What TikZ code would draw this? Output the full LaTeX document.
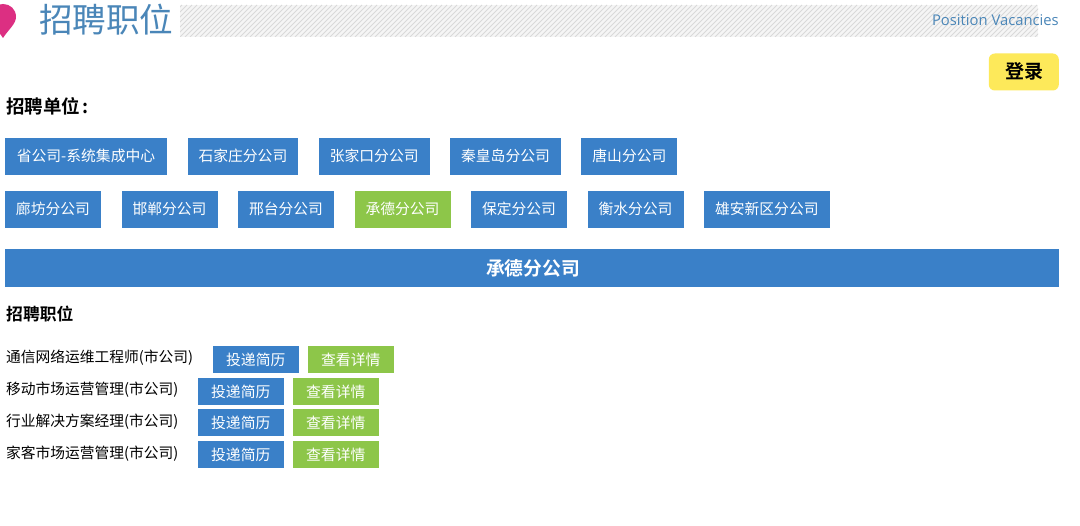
\documentclass[tikz,border=0pt]{standalone}
\usepackage{fontspec}
\setmainfont{Noto Sans CJK SC}
\newfontfamily\boldcjk{Noto Sans CJK SC Bold}
\setsansfont{Open Sans}
\usetikzlibrary{positioning}
\definecolor{btnblue}{HTML}{3A80C8}
\definecolor{btngreen}{HTML}{8DC649}
\definecolor{titleblue}{HTML}{4A86B8}
\definecolor{signyellow}{HTML}{FDE95A}
\definecolor{pinpink}{HTML}{DC2F82}
\tikzset{unitbtn/.style={fill=btnblue,text=white,inner xsep=11pt,inner ysep=0pt,outer sep=0pt,
            text height=11.5pt,text depth=2.3pt,
            minimum height=37pt,font=\fontsize{14.8}{16}\selectfont},
         unitsel/.style={unitbtn,fill=btngreen},
         sendbtn/.style={fill=btnblue,text=white,minimum width=85.5pt,minimum height=27pt,
            inner sep=0pt,outer sep=0pt,font=\fontsize{14.8}{16}\selectfont},
         infobtn/.style={sendbtn,fill=btngreen},
         joblabel/.style={anchor=west,inner sep=0pt,font=\fontsize{14.75}{16}\selectfont},
         heading/.style={anchor=west,inner sep=0pt,font=\boldcjk\fontsize{18.5}{20}\selectfont}}

\begin{document}
\begin{tikzpicture}[x=1pt,y=-1pt,node distance=20.5pt]
    \useasboundingbox (0,0) rectangle (1080,526);
    \fill[white] (0,0) rectangle (1080,526);
    % banner
    \fill[black!4] (180,5) rectangle (1038,37);
    \begin{scope}
        \clip (180,5) rectangle (1038,37);
        \foreach \i in {150,155,...,1040}
            \draw[black!15,line width=1pt] (\i,37) -- (\i+32,5);
    \end{scope}
    \fill[pinpink] (3,38) .. controls (8,30) and (16,24) .. (16,17)
        .. controls (16,9) and (10,4) .. (3,4) .. controls (-4,4) and (-10,9) .. (-10,17)
        .. controls (-10,24) and (-2,30) .. (3,38) -- cycle;
    \node[anchor=west,inner sep=0pt,text=titleblue,font=\fontsize{33.6}{36}\selectfont] (title) at (39,19.5) {招聘职位};
    \node[anchor=east,inner sep=0pt,text=titleblue,font=\sffamily\fontsize{14.8}{16}\selectfont] (titleen) at (1059,20) {Position Vacancies};
    \node[anchor=east,fill=signyellow,rounded corners=6pt,minimum width=70pt,minimum height=37pt,inner sep=0pt,
          text height=15pt,text depth=2.8pt,font=\boldcjk\fontsize{19}{20}\selectfont] (login) at (1059,72) {\hspace{1pt}登录};
    \node[heading] (unitlabel) at (6,106) {招聘单位\hspace{2.5pt}:};

    % first row
    \node[unitbtn,anchor=west,minimum width=162pt] (u1) at (5,156.5) {省公司-系统集成中心};
    \node[unitbtn,right=of u1] (u2) {石家庄分公司};
    \node[unitbtn,right=of u2] (u3) {张家口分公司};
    \node[unitbtn,right=of u3] (u4) {秦皇岛分公司};
    \node[unitbtn,right=of u4] (u5) {唐山分公司};
    % second row
    \node[unitbtn,anchor=west] (v1) at (5,209.5) {廊坊分公司};
    \node[unitbtn,right=of v1] (v2) {邯郸分公司};
    \node[unitbtn,right=of v2] (v3) {邢台分公司};
    \node[unitsel,right=of v3] (v4) {承德分公司};
    \node[unitbtn,right=of v4] (v5) {保定分公司};
    \node[unitbtn,right=of v5] (v6) {衡水分公司};
    \node[unitbtn,right=of v6] (v7) {雄安新区分公司};

    \node[anchor=west,fill=btnblue,text=white,minimum width=1054pt,minimum height=38pt,inner sep=0pt] (bar) at (5,268) {};
    \node[text=white,inner sep=0pt,font=\boldcjk\fontsize{18.8}{20}\selectfont] (bartext) at (533,268) {承德分公司};
    \node[heading,font=\boldcjk\fontsize{16.8}{20}\selectfont] (joblabel0) at (6,314) {招聘职位};

    \node[joblabel] (job1) at (6,358) {通信网络运维工程师(市公司)};
    \node[sendbtn,anchor=west] (send1) at (213,359.5) {投递简历};
    \node[infobtn,right=9.5pt of send1] (info1) {查看详情};
    \foreach \n/\t/\y/\ty in {2/移动市场运营管理/391.5/390,3/行业解决方案经理/423/422,4/家客市场运营管理/454.5/454} {
        \node[joblabel] (job\n) at (6,\ty) {\t(市公司)};
        \node[sendbtn,anchor=west] (send\n) at (198,\y) {投递简历};
        \node[infobtn,right=9.5pt of send\n] (info\n) {查看详情};
    }
\end{tikzpicture}
\end{document}
